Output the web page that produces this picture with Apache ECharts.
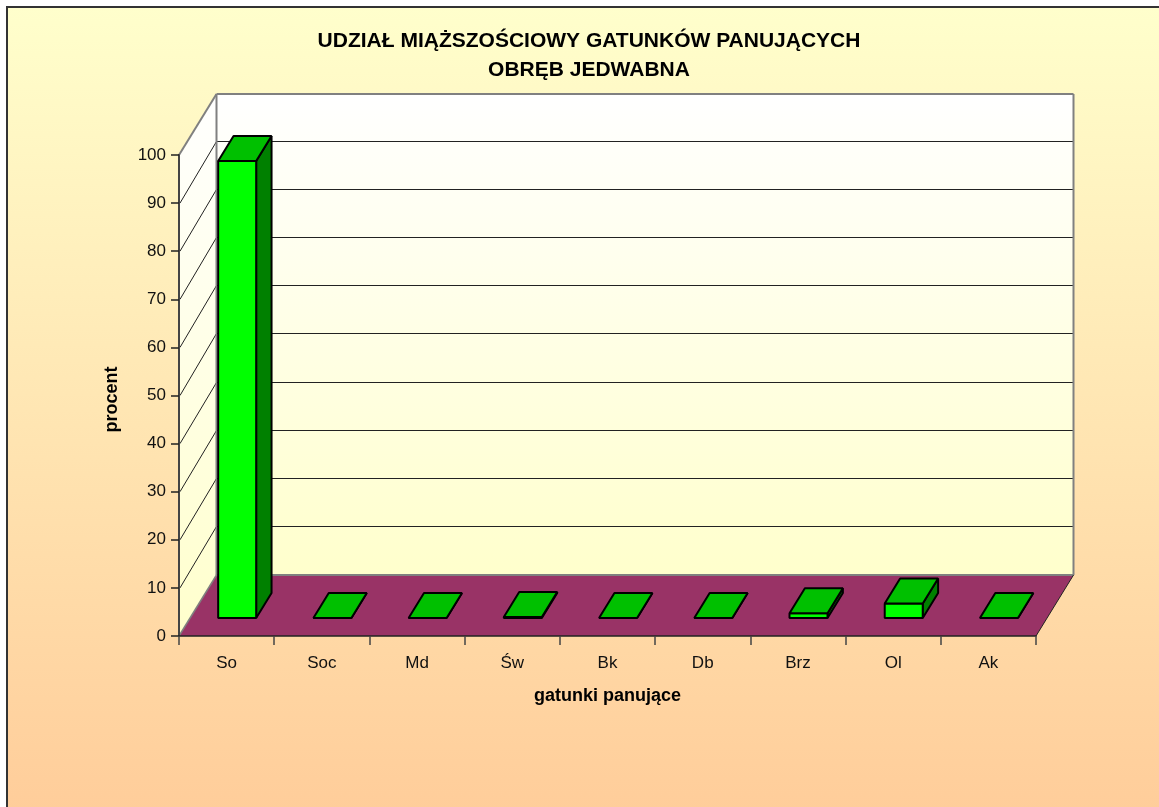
<!DOCTYPE html>
<html>
<head>
<meta charset="utf-8">
<style>
html, body { margin: 0; padding: 0; background: #fff; }
#chart { width: 1159px; height: 807px; }
</style>
<script src="https://cdn.jsdelivr.net/npm/echarts@6/dist/echarts.min.js"></script>
</head>
<body>
<div id="chart"></div>
<script>
var categories = ['So', 'Soc', 'Md', 'Św', 'Bk', 'Db', 'Brz', 'Ol', 'Ak'];
var values = [95, 0, 0, 0.2, 0, 0, 1, 3, 0];
var yTicks = [0, 10, 20, 30, 40, 50, 60, 70, 80, 90, 100];

// 3d look of the old excel chart: how far the floor goes back
var floorDx = 37.5, floorDy = -61;
var barDepthStart = 0.295, barDepthEnd = 0.705;
var barWidth = 38;

function poly(points, fill, stroke, lineWidth) {
    return {
        type: 'polygon',
        shape: { points: points },
        style: { fill: fill, stroke: stroke || 'none', lineWidth: lineWidth || 0, lineJoin: 'bevel' }
    };
}

function line(x1, y1, x2, y2, color, w) {
    return {
        type: 'line',
        shape: { x1: x1, y1: y1, x2: x2, y2: y2 },
        style: { stroke: color, lineWidth: w }
    };
}

function renderWalls(params, api) {
    var g = params.coordSys;
    var left = g.x, right = g.x + g.width, top = g.y, bottom = g.y + g.height;
    var wallFill = new echarts.graphic.LinearGradient(0, 0, 0, 1, [
        { offset: 0, color: '#ffffff' },
        { offset: 1, color: '#ffffcc' }
    ]);
    var children = [
        poly([[left, bottom], [left + floorDx, bottom + floorDy], [left + floorDx, top + floorDy], [left, top]], wallFill),
        poly([[left + floorDx, top + floorDy], [right + floorDx, top + floorDy], [right + floorDx, bottom + floorDy], [left + floorDx, bottom + floorDy]], wallFill)
    ];
    yTicks.forEach(function (t) {
        var y = api.coord([0, t])[1];
        if (t > 0 && t < 100) {
            var backY = Math.floor(y + floorDy - 0.6) + 0.5;
            children.push(line(left + 1, y, left + floorDx, backY, '#222', 1));
            children.push(line(left + floorDx, backY, right + floorDx, backY, '#222', 1));
        }
    });
    // grey outline of the walls
    children.push(line(left, top, left + floorDx, top + floorDy, '#808080', 2));
    children.push(line(left + floorDx, top + floorDy, right + floorDx, top + floorDy, '#808080', 2));
    children.push(line(left + floorDx, top + floorDy, left + floorDx, bottom + floorDy, '#808080', 2));
    children.push(line(right + floorDx, top + floorDy, right + floorDx, bottom + floorDy, '#808080', 2));
    // floor
    children.push(poly([[left, bottom], [right, bottom], [right + floorDx, bottom + floorDy], [left + floorDx, bottom + floorDy]], '#993366'));
    children.push(line(left + floorDx, bottom + floorDy, right + floorDx, bottom + floorDy, '#808080', 2));
    children.push(line(left, bottom, left + floorDx, bottom + floorDy, '#808080', 1.5));
    children.push(line(right, bottom, right + floorDx, bottom + floorDy, '#222', 1));
    return { type: 'group', children: children };
}

function renderBar(params, api) {
    var base = api.coord([api.value(0), 0]);
    var head = api.coord([api.value(0), api.value(1)]);
    var sx = floorDx * barDepthStart, sy = floorDy * barDepthStart;
    var dx = floorDx * (barDepthEnd - barDepthStart), dy = floorDy * (barDepthEnd - barDepthStart);
    var x0 = base[0] + sx - barWidth / 2 - 0.5, x1 = x0 + barWidth;
    var yb = base[1] + sy, yt = head[1] + sy;
    return {
        type: 'group',
        children: [
            poly([[x1, yb], [x1 + dx, yb + dy], [x1 + dx, yt + dy], [x1, yt]], '#008000', '#000', 2),
            poly([[x0, yb], [x1, yb], [x1, yt], [x0, yt]], '#00ff00', '#000', 2),
            poly([[x0, yt], [x1, yt], [x1 + dx, yt + dy], [x0 + dx, yt + dy]], '#00c000', '#000', 2)
        ]
    };
}

var option = {
    animation: false,
    textStyle: { fontFamily: 'Liberation Sans' },
    title: {
        text: 'UDZIAŁ MIĄŻSZOŚCIOWY GATUNKÓW PANUJĄCYCH\nOBRĘB JEDWABNA',
        left: 584,
        top: 22,
        textAlign: 'center',
        textStyle: { fontSize: 21, fontWeight: 'bold', color: '#000', lineHeight: 29, fontFamily: 'Liberation Sans' }
    },
    graphic: [{
        type: 'rect',
        z: -1,
        shape: { x: 7, y: 7, width: 1170, height: 820 },
        style: {
            fill: new echarts.graphic.LinearGradient(0, 0, 0, 1, [
                { offset: 0, color: '#ffffcc' },
                { offset: 1, color: '#ffcc99' }
            ]),
            stroke: '#333',
            lineWidth: 2
        }
    }],
    grid: { left: 179, top: 155, width: 857, height: 481 },
    xAxis: {
        type: 'category',
        data: categories,
        z: 5,
        name: 'gatunki panujące',
        nameLocation: 'middle',
        nameGap: 51,
        nameTextStyle: { fontSize: 18, fontWeight: 'bold', color: '#000' },
        axisLine: { lineStyle: { color: '#222', width: 1.5 } },
        axisTick: { show: true, alignWithLabel: false, length: 9, lineStyle: { color: '#444', width: 1.5 } },
        axisLabel: { fontSize: 17, color: '#111', margin: 19 }
    },
    yAxis: {
        type: 'value',
        min: 0,
        max: 100,
        interval: 10,
        z: 5,
        name: 'procent',
        nameLocation: 'middle',
        nameGap: 58,
        nameTextStyle: { fontSize: 18, fontWeight: 'bold', color: '#000', padding: [0, 8, 0, 0] },
        axisLine: { show: true, lineStyle: { color: '#444', width: 2 } },
        axisTick: { show: true, length: 8, lineStyle: { color: '#222', width: 1.5 } },
        axisLabel: { fontSize: 17, color: '#111', margin: 13, padding: [4, 0, 0, 0] },
        splitLine: { show: false }
    },
    series: [{
        type: 'custom',
        z: 1,
        silent: true,
        renderItem: renderWalls,
        data: [[0, 0]],
        encode: { x: 0, y: 1 }
    }, {
        type: 'custom',
        z: 2,
        renderItem: renderBar,
        data: values.map(function (v, i) { return [i, v]; }),
        encode: { x: 0, y: 1 }
    }]
};

var myChart = echarts.init(document.getElementById('chart'));
myChart.setOption(option);
</script>
</body>
</html>
